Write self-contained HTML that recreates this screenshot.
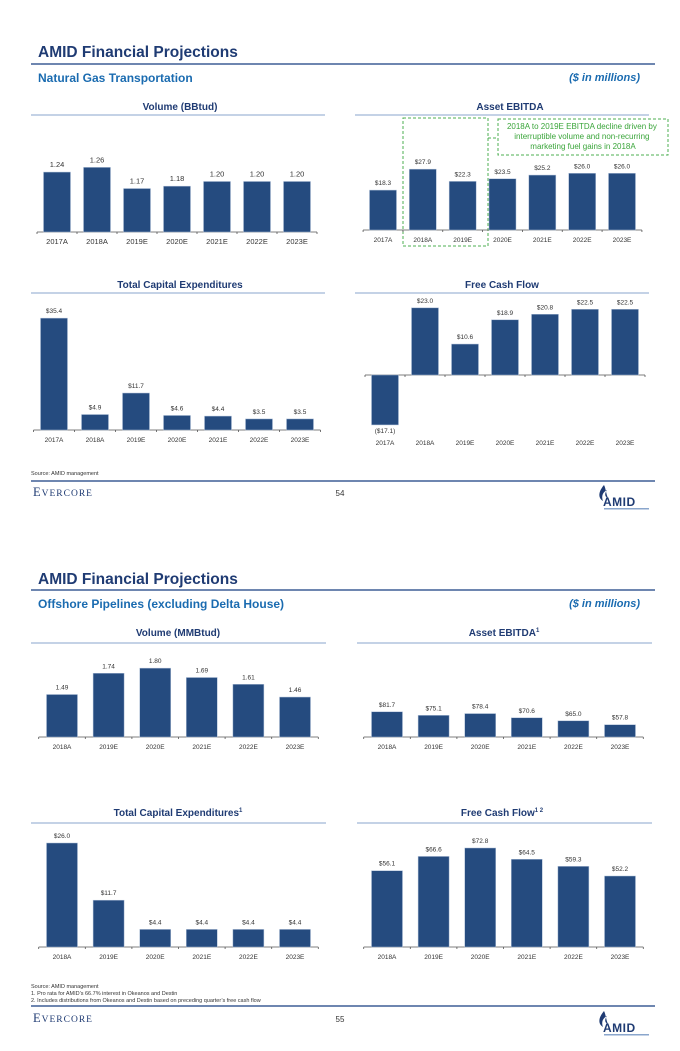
<!DOCTYPE html>
<html><head><meta charset="utf-8"><style>
html,body{margin:0;padding:0;background:#fff}
svg{display:block;font-family:"Liberation Sans",Arial,sans-serif}
</style></head><body>
<svg id="page" width="680" height="1051" viewBox="0 0 680 1051" xmlns="http://www.w3.org/2000/svg">
<!-- PAGE 1 -->
<g>
<text x="38" y="57" font-size="15.5" font-weight="bold" fill="#1f3b73">AMID Financial Projections</text>
<line x1="31" y1="64" x2="655" y2="64" stroke="#3e5f96" stroke-width="1.5"/>
<text x="38" y="82" font-size="12" font-weight="bold" fill="#1a6bb0">Natural Gas Transportation</text>
<text x="640" y="81" font-size="11" font-weight="bold" font-style="italic" fill="#1a6bb0" text-anchor="end">($ in millions)</text>

<text x="180" y="110" font-size="10" font-weight="bold" fill="#1f3b73" text-anchor="middle">Volume (BBtud)</text>
<line x1="31" y1="115" x2="325" y2="115" stroke="#8aa6cc" stroke-width="1"/>
<text x="510" y="110" font-size="10" font-weight="bold" fill="#1f3b73" text-anchor="middle">Asset EBITDA</text>
<line x1="355" y1="115" x2="649" y2="115" stroke="#8aa6cc" stroke-width="1"/>

<rect x="403" y="118" width="85" height="128" fill="none" stroke="#4caf50" stroke-width="1" stroke-dasharray="3,2"/>
<line x1="488" y1="138" x2="498" y2="138" stroke="#4caf50" stroke-width="1" stroke-dasharray="3,2"/>
<rect x="498" y="119" width="170" height="36" fill="none" stroke="#4caf50" stroke-width="1" stroke-dasharray="3,2"/>
<text font-size="8" fill="#3aa53a" text-anchor="middle">
<tspan x="583" y="129">2018A to 2019E EBITDA decline driven by</tspan>
<tspan x="583" y="139">interruptible volume and non-recurring</tspan>
<tspan x="583" y="149">marketing fuel gains in 2018A</tspan></text>

<text x="180" y="288" font-size="10" font-weight="bold" fill="#1f3b73" text-anchor="middle">Total Capital Expenditures</text>
<line x1="31" y1="293" x2="325" y2="293" stroke="#8aa6cc" stroke-width="1"/>
<text x="502" y="288" font-size="10" font-weight="bold" fill="#1f3b73" text-anchor="middle">Free Cash Flow</text>
<line x1="355" y1="293" x2="649" y2="293" stroke="#8aa6cc" stroke-width="1"/>

<text x="31" y="475" font-size="5.5" fill="#333">Source: AMID management</text>
<line x1="31" y1="481" x2="655" y2="481" stroke="#3e5f96" stroke-width="1.5"/>
<text x="33" y="496" font-size="12.5" fill="#1f3b73" font-family="Liberation Serif,serif" letter-spacing="1">E<tspan font-size="9.5">VERCORE</tspan></text>
<text x="340" y="496" font-size="8" fill="#333" text-anchor="middle">54</text>
<g>
<path d="M604 485 C598 492,598 498,603 501 C601 496,603 492,607 490 C604 494,605 497,608 498 C606 494,606 489,604 485Z" fill="#1f3b73"/>
<text x="603" y="506" font-size="12" font-weight="bold" fill="#1f3b73" letter-spacing="0.5">AMID</text>
<rect x="604" y="508" width="45" height="1.5" fill="#8aa6cc"/>
</g>
</g>

<!-- PAGE 2 -->
<g>
<text x="38" y="584" font-size="15.5" font-weight="bold" fill="#1f3b73">AMID Financial Projections</text>
<line x1="31" y1="590" x2="655" y2="590" stroke="#3e5f96" stroke-width="1.5"/>
<text x="38" y="608" font-size="12" font-weight="bold" fill="#1a6bb0">Offshore Pipelines (excluding Delta House)</text>
<text x="640" y="607" font-size="11" font-weight="bold" font-style="italic" fill="#1a6bb0" text-anchor="end">($ in millions)</text>

<text x="178" y="636" font-size="10" font-weight="bold" fill="#1f3b73" text-anchor="middle">Volume (MMBtud)</text>
<line x1="31" y1="643" x2="326" y2="643" stroke="#8aa6cc" stroke-width="1"/>
<text x="504" y="636" font-size="10" font-weight="bold" fill="#1f3b73" text-anchor="middle">Asset EBITDA<tspan font-size="6" dy="-4">1</tspan></text>
<line x1="357" y1="643" x2="652" y2="643" stroke="#8aa6cc" stroke-width="1"/>

<text x="178" y="816" font-size="10" font-weight="bold" fill="#1f3b73" text-anchor="middle">Total Capital Expenditures<tspan font-size="6" dy="-4">1</tspan></text>
<line x1="31" y1="823" x2="326" y2="823" stroke="#8aa6cc" stroke-width="1"/>
<text x="502" y="816" font-size="10" font-weight="bold" fill="#1f3b73" text-anchor="middle">Free Cash Flow<tspan font-size="6" dy="-4">1 2</tspan></text>
<line x1="357" y1="823" x2="652" y2="823" stroke="#8aa6cc" stroke-width="1"/>

<text font-size="5.5" fill="#333">
<tspan x="31" y="988">Source: AMID management</tspan>
<tspan x="31" y="995">1.    Pro rata for AMID’s 66.7% interest in Okeanos and Destin</tspan>
<tspan x="31" y="1002">2.    Includes distributions from Okeanos and Destin based on preceding quarter’s free cash flow</tspan></text>
<line x1="31" y1="1006" x2="655" y2="1006" stroke="#3e5f96" stroke-width="1.5"/>
<text x="33" y="1022" font-size="12.5" fill="#1f3b73" font-family="Liberation Serif,serif" letter-spacing="1">E<tspan font-size="9.5">VERCORE</tspan></text>
<text x="340" y="1022" font-size="8" fill="#333" text-anchor="middle">55</text>
<g>
<path d="M604 1011 C598 1018,598 1024,603 1027 C601 1022,603 1018,607 1016 C604 1020,605 1023,608 1024 C606 1020,606 1015,604 1011Z" fill="#1f3b73"/>
<text x="603" y="1032" font-size="12" font-weight="bold" fill="#1f3b73" letter-spacing="0.5">AMID</text>
<rect x="604" y="1034" width="45" height="1.5" fill="#8aa6cc"/>
</g>
</g>
<g id="charts"></g>
</svg>
<script>
// ---- data ----
const catsP1 = ["2017A","2018A","2019E","2020E","2021E","2022E","2023E"];
const catsP2 = ["2018A","2019E","2020E","2021E","2022E","2023E"];
const volume1Values = [1.24,1.26,1.17,1.18,1.20,1.20,1.20];
const volume1Labels = ["1.24","1.26","1.17","1.18","1.20","1.20","1.20"];
const ebitda1Values = [18.3,27.9,22.3,23.5,25.2,26.0,26.0];
const ebitda1Labels = ["$18.3","$27.9","$22.3","$23.5","$25.2","$26.0","$26.0"];
const capex1Values = [35.4,4.9,11.7,4.6,4.4,3.5,3.5];
const capex1Labels = ["$35.4","$4.9","$11.7","$4.6","$4.4","$3.5","$3.5"];
const fcf1Values = [-17.1,23.0,10.6,18.9,20.8,22.5,22.5];
const fcf1Labels = ["($17.1)","$23.0","$10.6","$18.9","$20.8","$22.5","$22.5"];
const volume2Values = [1.49,1.74,1.80,1.69,1.61,1.46];
const volume2Labels = ["1.49","1.74","1.80","1.69","1.61","1.46"];
const ebitda2Values = [81.7,75.1,78.4,70.6,65.0,57.8];
const ebitda2Labels = ["$81.7","$75.1","$78.4","$70.6","$65.0","$57.8"];
const capex2Values = [26.0,11.7,4.4,4.4,4.4,4.4];
const capex2Labels = ["$26.0","$11.7","$4.4","$4.4","$4.4","$4.4"];
const fcf2Values = [56.1,66.6,72.8,64.5,59.3,52.2];
const fcf2Labels = ["$56.1","$66.6","$72.8","$64.5","$59.3","$52.2"];

const NS = "http://www.w3.org/2000/svg";
const root = document.getElementById("charts");
function mk(tag, attrs, parent){
  const e = document.createElementNS(NS, tag);
  for (const k in attrs) e.setAttribute(k, attrs[k]);
  parent.appendChild(e);
  return e;
}
function chart(name, cats, vals, labels, o){
  const g = mk("g", {}, root);
  
  
  const step = (o.xLast - o.xFirst) / (cats.length - 1);
  const xs = i => o.xFirst + i * step;
  const ys = v => o.zeroY - (v - o.min) * o.scale;
  const fs = o.fs || 6.5;
  const ax = mk("line", {x1: xs(0)-step/2, x2: xs(cats.length-1)+step/2, y1: o.zeroY, y2: o.zeroY, stroke:"#555", "stroke-width":0.8}, g);
  
  
  for (let i = 0; i <= cats.length; i++) {
    const tx = xs(0) - step/2 + i*step;
    mk("line", {x1: tx, x2: tx, y1: o.zeroY, y2: o.zeroY+2, stroke:"#555", "stroke-width":0.8}, g);
  }
  cats.forEach((c, i) => {
    const v = vals[i];
    const base = o.zeroY;
    const top = v >= 0 ? ys(v) : base;
    const h = v >= 0 ? base - ys(v) : (0 - v) * o.scale;
    const r = mk("rect", {x: xs(i) - o.bw/2, y: top, width: o.bw, height: h, fill:"#254b7f", stroke:"#aebfd8", "stroke-width":0.5}, g);
    
    
    const ly = v >= 0 ? top - 5 : base + h + 8;
    const t = mk("text", {x: xs(i), y: ly, "font-size": fs, fill:"#333", "text-anchor":"middle"}, g);
    t.textContent = labels[i];
    
    
    const cy = o.catY || (o.zeroY + 12);
    const ct = mk("text", {x: xs(i), y: cy, "font-size": fs, fill:"#333", "text-anchor":"middle"}, g);
    ct.textContent = c;
    
    
  });
}
chart("volume", catsP1, volume1Values, volume1Labels, {xFirst:57, xLast:297, zeroY:232, min:0.985, scale:235, bw:27, fs:7.5});
chart("ebitda", catsP1, ebitda1Values, ebitda1Labels, {xFirst:383, xLast:622, zeroY:230, min:0, scale:2.18, bw:27});
chart("capex", catsP1, capex1Values, capex1Labels, {xFirst:54, xLast:300, zeroY:430, min:0, scale:3.16, bw:27});
chart("fcf", catsP1, fcf1Values, fcf1Labels, {xFirst:385, xLast:625, zeroY:375, min:0, scale:2.92, bw:27, catY:445});
chart("volume2", catsP2, volume2Values, volume2Labels, {xFirst:62, xLast:295, zeroY:737, min:0.99, scale:85, bw:31});
chart("ebitda2", catsP2, ebitda2Values, ebitda2Labels, {xFirst:387, xLast:620, zeroY:737, min:35, scale:0.54, bw:31});
chart("capex2", catsP2, capex2Values, capex2Labels, {xFirst:62, xLast:295, zeroY:947, min:0, scale:4.0, bw:31});
chart("fcf2", catsP2, fcf2Values, fcf2Labels, {xFirst:387, xLast:620, zeroY:947, min:0, scale:1.36, bw:31});
</script>
</body></html>
